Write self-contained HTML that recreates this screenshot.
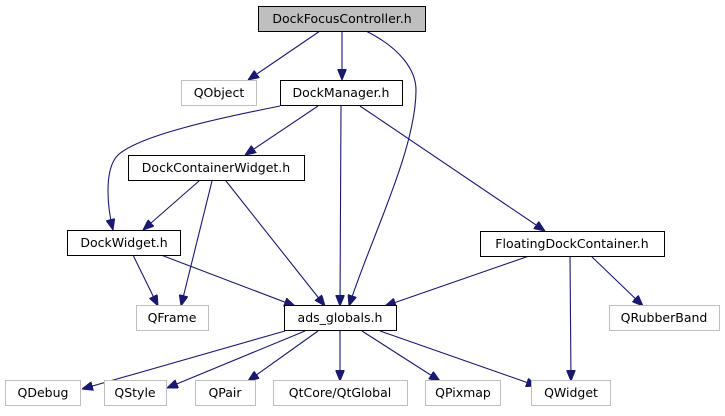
<!DOCTYPE html>
<html><head><meta charset="utf-8"><style>
body{margin:0;background:#fff}
svg text{font-family:"DejaVu Sans","Liberation Sans",sans-serif;font-size:12.5px;text-anchor:middle}
</style></head><body>
<svg width="725" height="411" xmlns="http://www.w3.org/2000/svg">
<defs><marker id="a" markerWidth="11" markerHeight="9" refX="11" refY="4.5" orient="auto" markerUnits="userSpaceOnUse"><path d="M0,0 L11,4.5 L0,9 Z" fill="#191970" stroke="#191970"/></marker></defs>
<g fill="none" stroke="#191970" stroke-width="1.1" marker-end="url(#a)">
<path d="M342,31 L342,80"/>
<path d="M320,31 L248,80"/>
<path d="M366,31 C400,48 416,70 416,90 C416,150 370,240 349,306"/>
<path d="M280,106 C220,118 140,135 118,155 C103,170 108,210 113,230"/>
<path d="M318,106 L245,155"/>
<path d="M341,106 L340,306"/>
<path d="M360,106 L545,231"/>
<path d="M199,181 L143,230"/>
<path d="M212,181 L181,306"/>
<path d="M226,181 L325,306"/>
<path d="M133,255 L158,306"/>
<path d="M161,255 L295,306"/>
<path d="M532,255 L385,306"/>
<path d="M570,255 L571,381"/>
<path d="M590,255 L643,306"/>
<path d="M285,331 L82,389"/>
<path d="M305,331 L167,388"/>
<path d="M318,331 L248,381"/>
<path d="M340,331 L340,381"/>
<path d="M362,331 L440,381"/>
<path d="M380,331 L537,386"/>
</g>
<g stroke-width="1">
<rect x="258.5" y="6.5" width="167" height="25" fill="#bfbfbf" stroke="#000"/>
<rect x="181.5" y="80.5" width="75" height="25" fill="#fff" stroke="#bfbfbf"/>
<rect x="280.5" y="80.5" width="122" height="25" fill="#fff" stroke="#000"/>
<rect x="128.5" y="155.5" width="176" height="25" fill="#fff" stroke="#000"/>
<rect x="67.5" y="230.5" width="113" height="25" fill="#fff" stroke="#000"/>
<rect x="480.5" y="231.5" width="184" height="25" fill="#fff" stroke="#000"/>
<rect x="136.5" y="305.5" width="72" height="25" fill="#fff" stroke="#bfbfbf"/>
<rect x="284.5" y="305.5" width="112" height="25" fill="#fff" stroke="#000"/>
<rect x="609.5" y="305.5" width="110" height="25" fill="#fff" stroke="#bfbfbf"/>
<rect x="5.5" y="380.5" width="75" height="25" fill="#fff" stroke="#bfbfbf"/>
<rect x="104.5" y="380.5" width="62" height="25" fill="#fff" stroke="#bfbfbf"/>
<rect x="195.5" y="380.5" width="60" height="25" fill="#fff" stroke="#bfbfbf"/>
<rect x="273.5" y="380.5" width="134" height="25" fill="#fff" stroke="#bfbfbf"/>
<rect x="425.5" y="380.5" width="75" height="25" fill="#fff" stroke="#bfbfbf"/>
<rect x="531.5" y="380.5" width="79" height="25" fill="#fff" stroke="#bfbfbf"/>
</g>
<g fill="#000">
<text x="342" y="23">DockFocusController.h</text>
<text x="341" y="97">DockManager.h</text>
<text x="216" y="172">DockContainerWidget.h</text>
<text x="124" y="247">DockWidget.h</text>
<text x="572" y="248">FloatingDockContainer.h</text>
<text x="340" y="322">ads_globals.h</text>
<text x="219" y="97">QObject</text>
<text x="172" y="322">QFrame</text>
<text x="664" y="322">QRubberBand</text>
<text x="43" y="397">QDebug</text>
<text x="135" y="397">QStyle</text>
<text x="225" y="397">QPair</text>
<text x="340" y="397">QtCore/QtGlobal</text>
<text x="463" y="397">QPixmap</text>
<text x="571" y="397">QWidget</text>
</g>
</svg>
</body></html>
